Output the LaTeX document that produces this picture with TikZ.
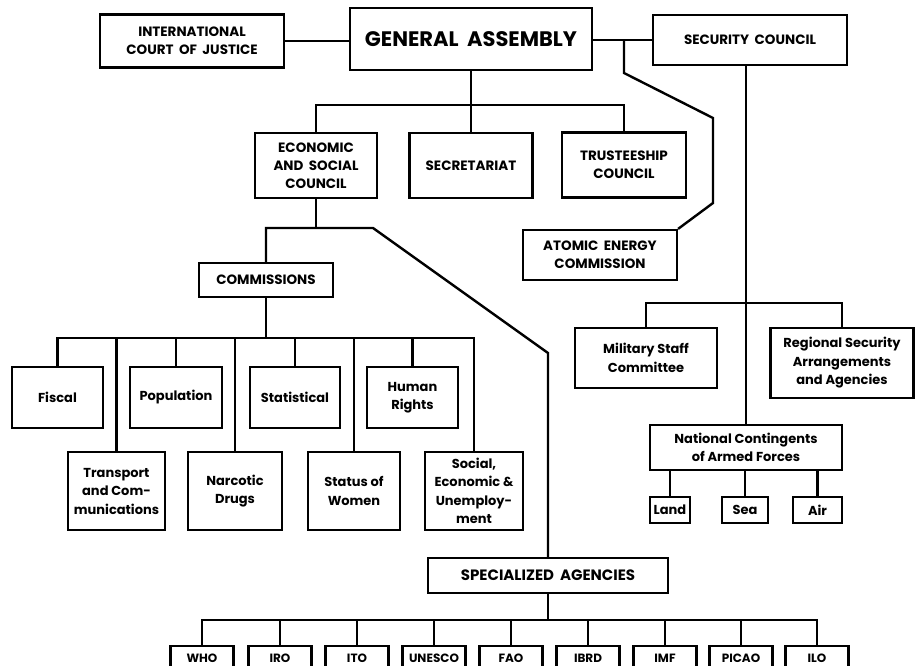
\documentclass[tikz,border=0pt]{standalone}
\usepackage{fontspec}
\setmainfont{Poppins}
\newfontfamily\widecaps{Poppins}[WordSpace=1.9]
\begin{document}
\begin{tikzpicture}[x=1pt,y=-1pt,line width=2.4pt,
  unit/.style={draw, line width=2.2pt, align=center, inner sep=1pt},
  gabig/.style={font=\widecaps\bfseries\fontsize{21}{24}\selectfont},
  capstext/.style={font=\widecaps\bfseries\fontsize{13.5}{18}\selectfont},
  smalltext/.style={font=\bfseries\fontsize{13}{18.5}\selectfont},
  agency/.style={unit, minimum width=63pt, minimum height=24pt, font=\bfseries\fontsize{12}{13}\selectfont}]
\useasboundingbox (0,0) rectangle (915,666);
\clip (0,0) rectangle (915,666);

\node[unit, capstext, minimum width=184pt, minimum height=53pt] (icj) at (192,41) {INTERNATIONAL\\COURT OF JUSTICE};
\node[unit, gabig, minimum width=242pt, minimum height=62pt] (ga) at (471,39) {GENERAL ASSEMBLY};
\node[unit, capstext, minimum width=194pt, minimum height=50pt] (sc) at (750,40) {SECURITY COUNCIL};

\node[unit, capstext, minimum width=122pt, minimum height=65pt] (ecosoc) at (316,165.5) {ECONOMIC\\AND SOCIAL\\COUNCIL};
\node[unit, capstext, minimum width=123pt, minimum height=65pt] (sec) at (471,165.5) {SECRETARIAT};
\node[unit, capstext, minimum width=124pt, minimum height=65pt] (trust) at (624,165) {TRUSTEESHIP\\COUNCIL};
\node[unit, capstext, minimum width=154pt, minimum height=50pt] (aec) at (600,255) {ATOMIC ENERGY\\COMMISSION};

\node[unit, capstext, minimum width=134pt, minimum height=34pt] (comm) at (266,280) {COMMISSIONS};

\node[unit, smalltext, minimum width=91pt, minimum height=61pt] (fiscal) at (57.5,397.5) {Fiscal};
\node[unit, smalltext, minimum width=92pt, minimum height=61pt] (pop) at (176,397.5) {Population};
\node[unit, smalltext, minimum width=90pt, minimum height=61pt] (stat) at (295,397.5) {Statistical};
\node[unit, smalltext, minimum width=91pt, minimum height=61pt] (hr) at (412.5,397.5) {Human\\Rights};

\node[unit, smalltext, minimum width=97pt, minimum height=78pt] (transp) at (116.5,491) {Transport\\and Com-\\munications};
\node[unit, smalltext, minimum width=94pt, minimum height=78pt] (narc) at (235,491) {Narcotic\\Drugs};
\node[unit, smalltext, minimum width=92pt, minimum height=78pt] (status) at (354,491) {Status of\\Women};
\node[unit, smalltext, minimum width=98pt, minimum height=78pt] (social) at (474,491) {Social,\\Economic \&\\Unemploy-\\ment};

\node[unit, smalltext, minimum width=142pt, minimum height=60pt] (milit) at (646,358) {Military Staff\\Committee};
\node[unit, smalltext, minimum width=143pt, minimum height=70pt] (regional) at (842,363) {Regional Security\\Arrangements\\and Agencies};
\node[unit, smalltext, minimum width=192pt, minimum height=45pt] (nc) at (746,447.5) {National Contingents\\of Armed Forces};
\node[unit, smalltext, minimum width=40pt, minimum height=26pt] (land) at (670,510) {Land};
\node[unit, smalltext, minimum width=46pt, minimum height=26pt] (sea) at (745,510) {Sea};
\node[unit, smalltext, minimum width=49pt, minimum height=26pt] (air) at (817.5,510) {Air};

\node[unit, minimum width=240pt, minimum height=35pt, font=\widecaps\bfseries\fontsize{15}{18}\selectfont] (sa) at (548,575.5) {SPECIALIZED AGENCIES};

\node[agency] (who) at (202,658) {WHO};
\node[agency] (iro) at (280,658) {IRO};
\node[agency] (ito) at (357,658) {ITO};
\node[agency] (unesco) at (434,658) {UNESCO};
\node[agency] (fao) at (511,658) {FAO};
\node[agency] (ibrd) at (588,658) {IBRD};
\node[agency] (imf) at (665,658) {IMF};
\node[agency] (picao) at (741,658) {PICAO};
\node[agency] (ilo) at (817,658) {ILO};

\coordinate (a1) at (624,40);
\coordinate (a2) at (624,73);
\coordinate (a3) at (713,118);
\coordinate (a4) at (713,203);
\coordinate (gbar) at (471,105);
\coordinate (ebar) at (373,228);
\coordinate (e2) at (548,353);
\coordinate (cbar) at (265,338);
\coordinate (sbar) at (745,303);
\coordinate (abar) at (548,620);

\draw (icj.east) -- (icj.east -| ga.west);
\draw (sc.west -| ga.east) -- (sc.west);
\draw (a1) -- (a2) -- (a3) -- (a4) -- (aec.north east);

\draw (ga.south) -- (sec.north);
\draw (ecosoc.north) |- (trust.north |- gbar) -- (trust.north);

\draw (ecosoc.south) -- (ecosoc.south |- ebar);
\draw (comm.north) |- (ebar) -- (e2) -- (sa.north);

\draw (comm.south) -- (comm.south |- cbar);
\draw (fiscal.north) |- (social.north |- cbar) -- (social.north);
\draw (pop.north) -- (pop.north |- cbar);
\draw (stat.north) -- (stat.north |- cbar);
\draw (hr.north) -- (hr.north |- cbar);
\draw (transp.north) -- (transp.north |- cbar);
\draw (narc.north) -- (narc.north |- cbar);
\draw (status.north) -- (status.north |- cbar);

\draw (nc.north |- sc.south) -- (nc.north);
\draw (milit.north) |- (regional.north |- sbar) -- (regional.north);
\draw (land.north) -- (land.north |- nc.south);
\draw (sea.north) -- (sea.north |- nc.south);
\draw (air.north) -- (air.north |- nc.south);

\draw (sa.south) -- (abar);
\draw (who.north) |- (ilo.north |- abar) -- (ilo.north);
\draw (iro.north) -- (iro.north |- abar);
\draw (ito.north) -- (ito.north |- abar);
\draw (unesco.north) -- (unesco.north |- abar);
\draw (fao.north) -- (fao.north |- abar);
\draw (ibrd.north) -- (ibrd.north |- abar);
\draw (imf.north) -- (imf.north |- abar);
\draw (picao.north) -- (picao.north |- abar);
\end{tikzpicture}
\end{document}
